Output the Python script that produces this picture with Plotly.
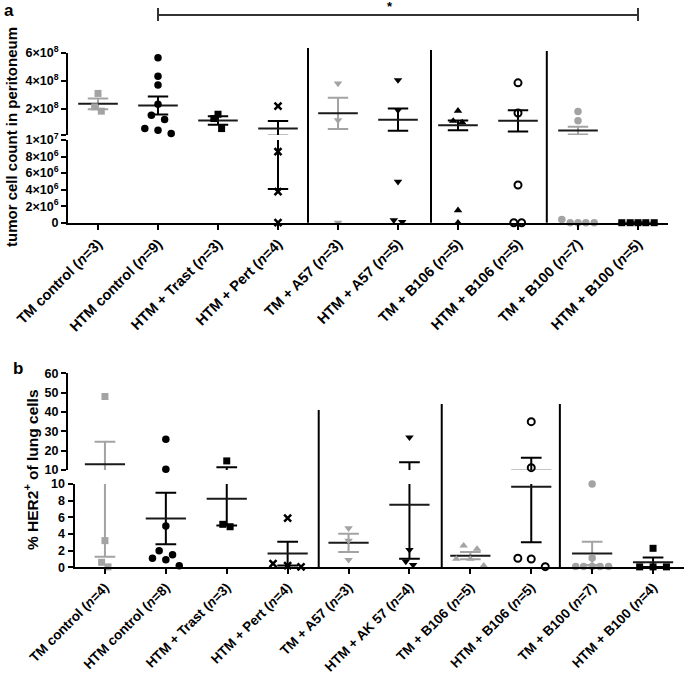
import numpy as np
import plotly.graph_objects as go

# ---------------- data: panel a (tumor cell count in peritoneum) ----------------
a_labels = ["TM control (<i>n</i>=3)", "HTM control (<i>n</i>=9)", "HTM + Trast (<i>n</i>=3)",
            "HTM + Pert (<i>n</i>=4)", "TM + A57 (<i>n</i>=3)", "HTM + A57 (<i>n</i>=5)",
            "TM + B106 (<i>n</i>=5)", "HTM + B106 (<i>n</i>=5)", "TM + B100 (<i>n</i>=7)",
            "HTM + B100 (<i>n</i>=5)"]
a_tm_control = [3.08e8, 2.12e8, 1.81e8]
a_htm_control = [5.64e8, 4.32e8, 3.68e8, 2.31e8, 1.52e8, 1.21e8, 0.56e8, 0.44e8, 0.20e8]
a_htm_trast = [1.59e8, 1.28e8, 0.56e8]
a_htm_pert = [2.17e8, 8.6e6, 3.75e6, 0.0]
a_tm_a57 = [3.80e8, 1.16e8, 0.0]
a_htm_a57 = [4.04e8, 1.88e8, 4.96e6, 0.3e6, 0.1e6]
a_tm_b106 = [1.83e8, 1.11e8, 1.00e8, 1.5e6, 0.0]
a_htm_b106 = [3.84e8, 1.68e8, 4.56e6, 0.0, 0.0]
a_tm_b100 = [1.79e8, 1.12e8, 0.4e6, 0.0, 0.0, 0.0, 0.0]
a_htm_b100 = [0.0, 0.0, 0.0, 0.0, 0.0]
a_low_ticks = [0, 2e6, 4e6, 6e6, 8e6, 1e7]
a_low_ticktext = ["0", "2×10<sup>6</sup>", "4×10<sup>6</sup>", "6×10<sup>6</sup>", "8×10<sup>6</sup>", "1×10<sup>7</sup>"]
a_up_ticks = [1e7, 2e8, 4e8, 6e8]
a_up_ticktext = [" ", "2×10<sup>8</sup>", "4×10<sup>8</sup>", "6×10<sup>8</sup>"]

# ---------------- data: panel b (% HER2+ of lung cells) ----------------
b_labels = ["TM control (<i>n</i>=4)", "HTM control (<i>n</i>=8)", "HTM + Trast (<i>n</i>=3)",
            "HTM + Pert (<i>n</i>=4)", "TM + A57 (<i>n</i>=3)", "HTM + AK 57 (<i>n</i>=4)",
            "TM + B106 (<i>n</i>=5)", "HTM + B106 (<i>n</i>=5)", "TM + B100 (<i>n</i>=7)",
            "HTM + B100 (<i>n</i>=4)"]
b_tm_control = [48.0, 3.2, 0.6, 0.05]
b_htm_control = [25.9, 10.4, 4.96, 2.0, 1.5, 1.1, 0.9, 0.2]
b_htm_trast = [14.7, 5.16, 4.87]
b_htm_pert = [5.9, 0.45, 0.2, 0.05]
b_tm_a57 = [4.7, 3.2, 0.9]
b_htm_ak57 = [26.9, 2.1, 0.7, 0.3]
b_tm_b106 = [2.6, 2.2, 1.0, 1.0, 0.2]
b_htm_b106 = [35.0, 11.2, 1.08, 1.0, 0.08]
b_tm_b100 = [10.0, 1.12, 0.1, 0.1, 0.1, 0.1, 0.1]
b_htm_b100 = [2.28, 0.05, 0.05, 0.05]
b_low_ticks = [0, 2, 4, 6, 8, 10]
b_up_ticks = [10, 20, 30, 40, 50, 60]

# ---------------- styling / layout helpers ----------------
W, H = 685, 675
GRAY = "#a3a3a3"
BLACK = "#000000"
FONT = "Liberation Sans, Arial, sans-serif"


def px_x(p):
    return p / W


def px_y(p):
    return 1 - p / H


# horizontal jitter of points inside a column (category units)
a_dx = [
    [0, -0.055, 0.055],
    [0, 0, 0, 0, -0.11, 0.11, -0.22, 0, 0.22],
    [0, -0.07, 0.06],
    [0, 0, 0, 0],
    [0, 0, 0],
    [0, 0, 0, -0.07, 0.07],
    [0, -0.08, 0.07, 0, 0],
    [0, 0, 0, -0.07, 0.06],
    [0, 0, -0.27, -0.13, 0, 0.13, 0.27],
    [-0.27, -0.13, 0, 0.13, 0.27],
]
b_dx = [
    [0, 0, -0.055, 0.05],
    [0, 0, 0, -0.11, 0.11, -0.22, 0, 0.22],
    [0, -0.065, 0.055],
    [0, -0.24, 0, 0.22],
    [0, 0, 0],
    [0, 0, -0.06, 0.06],
    [-0.11, 0.11, 0, -0.23, 0.22],
    [0, 0, -0.22, 0, 0.23],
    [0, 0, -0.27, -0.14, 0, 0.13, 0.27],
    [0, -0.22, 0, 0.22],
]

a_groups = [a_tm_control, a_htm_control, a_htm_trast, a_htm_pert, a_tm_a57,
            a_htm_a57, a_tm_b106, a_htm_b106, a_tm_b100, a_htm_b100]
b_groups = [b_tm_control, b_htm_control, b_htm_trast, b_htm_pert, b_tm_a57,
            b_htm_ak57, b_tm_b106, b_htm_b106, b_tm_b100, b_htm_b100]

a_style = [("square", GRAY), ("circle", BLACK), ("square", BLACK), ("x", BLACK),
           ("triangle-down", GRAY), ("triangle-down", BLACK), ("triangle-up", BLACK),
           ("circle-open", BLACK), ("circle", GRAY), ("square", BLACK)]
b_style = [("square", GRAY), ("circle", BLACK), ("square", BLACK), ("x", BLACK),
           ("triangle-down", GRAY), ("triangle-down", BLACK), ("triangle-up", GRAY),
           ("circle-open", BLACK), ("circle", GRAY), ("square", BLACK)]

fig = go.Figure()


def add_panel(groups, dxs, styles, brk, xa, ya_low, ya_up):
    for i, (vals, dx, (sym, col)) in enumerate(zip(groups, dxs, styles)):
        v = np.array(vals, dtype=float)
        m = v.mean()
        s = v.std(ddof=1) / np.sqrt(len(v)) if len(v) > 1 else 0.0
        hm, hc = 0.33, 0.17
        # error bar (vertical + caps) and mean line, drawn in both segments (clipped)
        ex = [i, i, None, i - hc, i + hc, None, i - hc, i + hc]
        ey = [m - s, m + s, None, m + s, m + s, None, m - s, m - s]
        for ya in (ya_low, ya_up):
            fig.add_trace(go.Scatter(x=ex, y=ey, mode="lines", xaxis=xa, yaxis=ya,
                                     line=dict(color=col, width=2), hoverinfo="skip",
                                     showlegend=False))
            fig.add_trace(go.Scatter(x=[i - hm, i + hm], y=[m, m], mode="lines",
                                     xaxis=xa, yaxis=ya,
                                     line=dict(color="#1a1a1a", width=2),
                                     hoverinfo="skip", showlegend=False))
        xs = [i + d for d in dx]
        lo = [(x, y) for x, y in zip(xs, v) if y <= brk]
        up = [(x, y) for x, y in zip(xs, v) if y > brk]
        if sym == "circle-open":
            mk = dict(symbol=sym, size=7, color=col, line=dict(width=2, color=col))
        elif sym == "x":
            mk = dict(symbol="x-thin", size=7, color=col, line=dict(width=2.5, color=col))
        elif sym == "square":
            mk = dict(symbol=sym, size=7, color=col, line=dict(width=0))
        else:
            mk = dict(symbol=sym, size=7.5, color=col, line=dict(width=0))
        for pts, ya in ((lo, ya_low), (up, ya_up)):
            if pts:
                fig.add_trace(go.Scatter(x=[p[0] for p in pts], y=[p[1] for p in pts],
                                         mode="markers", marker=mk, xaxis=xa, yaxis=ya,
                                         cliponaxis=False, showlegend=False))


add_panel(a_groups, a_dx, a_style, 1e7, "x", "y", "y2")
add_panel(b_groups, b_dx, b_style, 10, "x3", "y3", "y4")

tickfont = dict(family=FONT, size=12.5, color="black", weight="bold")
xtickfont_a = dict(family=FONT, size=14.5, color="black", weight="bold")
xtickfont_b = dict(family=FONT, size=13.5, color="black", weight="bold")
axis_common = dict(showgrid=False, zeroline=False, showline=True, linecolor="black",
                   linewidth=2, ticks="outside", ticklen=5, tickwidth=2, tickcolor="black",
                   automargin=False)

a_xdom = [px_x(68), px_x(668)]
b_xdom = [px_x(74.5), px_x(683.5)]
fig.update_layout(
    width=W, height=H, margin=dict(l=0, r=0, t=0, b=0, autoexpand=False),
    plot_bgcolor="white", paper_bgcolor="white", showlegend=False,
    xaxis=dict(domain=a_xdom, range=[-0.5, 9.5], anchor="y", tickmode="array",
               tickvals=list(range(10)), ticktext=a_labels, tickangle=-45,
               tickfont=xtickfont_a, **axis_common),
    yaxis=dict(domain=[px_y(222.7), px_y(140)], range=[0, 1e7], anchor="x",
               tickmode="array", tickvals=a_low_ticks, ticktext=a_low_ticktext,
               tickfont=tickfont, **axis_common),
    xaxis2=dict(domain=a_xdom, range=[-0.5, 9.5], anchor="y2", visible=False,
                automargin=False),
    yaxis2=dict(domain=[px_y(135), px_y(52.7)], range=[1e7, 6e8], anchor="x2",
                tickmode="array", tickvals=a_up_ticks,
                ticktext=a_up_ticktext, tickfont=tickfont, **axis_common),
    xaxis3=dict(domain=b_xdom, range=[-0.5, 9.5], anchor="y3", tickmode="array",
                tickvals=list(range(10)), ticktext=b_labels, tickangle=-45,
                tickfont=xtickfont_b, **axis_common),
    yaxis3=dict(domain=[px_y(567.3), px_y(484)], range=[0, 10], anchor="x3",
                tickmode="array", tickvals=b_low_ticks,
                ticktext=[str(t) for t in b_low_ticks], tickfont=tickfont, **axis_common),
    xaxis4=dict(domain=b_xdom, range=[-0.5, 9.5], anchor="y4", visible=False,
                automargin=False),
    yaxis4=dict(domain=[px_y(470), px_y(373.3)], range=[10, 60], anchor="x4",
                tickmode="array", tickvals=b_up_ticks,
                ticktext=[str(t) for t in b_up_ticks], tickfont=tickfont, **axis_common),
)

shapes = []
# group separators
for xv, top in ((3.5, 48), (5.55, 50), (7.48, 51)):
    shapes.append(dict(type="line", xref="x", yref="paper", x0=xv, x1=xv,
                       y0=px_y(222.7), y1=px_y(top), line=dict(color="black", width=2)))
for xv, top in ((3.51, 410), (5.53, 404), (7.47, 404)):
    shapes.append(dict(type="line", xref="x3", yref="paper", x0=xv, x1=xv,
                       y0=px_y(567.3), y1=px_y(top), line=dict(color="black", width=2)))
# significance bracket
shapes.append(dict(type="line", xref="x", yref="paper", x0=1, x1=9, y0=px_y(15), y1=px_y(15),
                   line=dict(color="#333", width=2)))
for xv in (1, 9):
    shapes.append(dict(type="line", xref="x", yref="paper", x0=xv, x1=xv, y0=px_y(8),
                       y1=px_y(21), line=dict(color="#333", width=2)))
fig.update_layout(shapes=shapes)

ann = [
    dict(text="*", x=4.87, xref="x", y=px_y(7), yref="paper", showarrow=False,
         xanchor="center", yanchor="middle",
         font=dict(family=FONT, size=13, color="black", weight="bold")),
    dict(text="a", x=px_x(9), y=px_y(10), xref="paper", yref="paper", showarrow=False,
         xanchor="center", yanchor="middle",
         font=dict(family=FONT, size=17, color="black", weight="bold")),
    dict(text="b", x=px_x(18), y=px_y(368), xref="paper", yref="paper", showarrow=False,
         xanchor="center", yanchor="middle",
         font=dict(family=FONT, size=17, color="black", weight="bold")),
    dict(text="tumor cell count in peritoneum", x=px_x(11), y=px_y(137), xref="paper",
         yref="paper", showarrow=False, textangle=-90, xanchor="center", yanchor="middle",
         font=dict(family=FONT, size=15, color="black", weight="bold")),
    dict(text="% HER2<sup>+</sup> of lung cells", x=px_x(31), y=px_y(470), xref="paper",
         yref="paper", showarrow=False, textangle=-90, xanchor="center", yanchor="middle",
         font=dict(family=FONT, size=15.5, color="black", weight="bold")),
]
fig.update_layout(annotations=ann)

fig.write_html("out.html", config={"displayModeBar": False},
               post_script="document.body.style.margin='0';document.body.style.overflow='hidden';")
